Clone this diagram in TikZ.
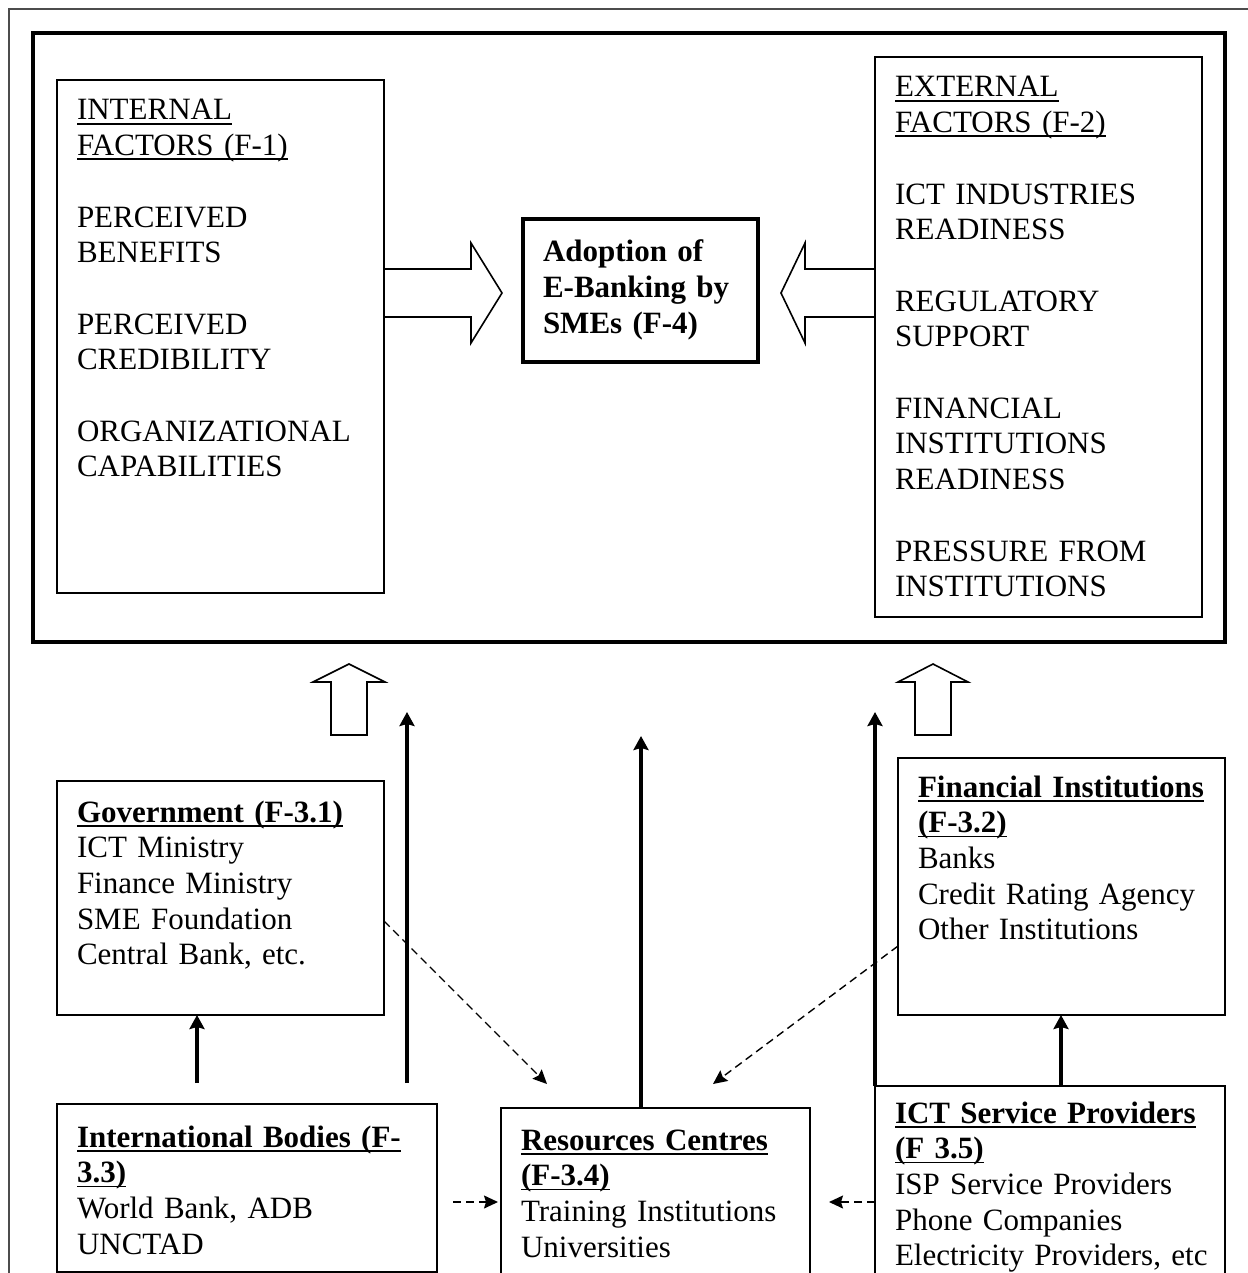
\documentclass[tikz,border=0pt]{standalone}
\usepackage{fontspec}
\setmainfont{Liberation Serif}
\usepackage{tikz}
\usetikzlibrary{arrows.meta}
\newcommand{\ulhead}[1]{\leavevmode\setbox0=\hbox{#1}\rlap{\rule[-2.3pt]{\wd0}{0.9pt}}\box0}
\tikzset{
   factorbox/.style={draw, line width=0.8pt, anchor=north west, inner xsep=10pt, inner ysep=0pt, outer sep=0pt, align=left, font=\fontsize{15.5pt}{17.85pt}\selectfont},
   mainbox/.style={factorbox, line width=1.6pt, font=\fontsize{15.5pt}{17.85pt}\selectfont\bfseries},
   thickarrow/.style={line width=2pt, -{Stealth[length=7pt,width=7.5pt,inset=1pt]}},
   dasharrow/.style={line width=0.7pt, dash pattern=on 4pt off 2.5pt, -{Stealth[length=7pt,width=6.5pt,inset=1pt]}},
   blockarrow/.style={line width=0.8pt, line join=miter}
}
\begin{document}
\begin{tikzpicture}[x=0.5pt,y=-0.5pt]
   \useasboundingbox (0,0) rectangle (1247,1273);
   \draw[line width=0.8pt, black!70] (1260,9) -- (9,9) -- (9,1290);
   \node[draw, line width=1.6pt, outer sep=0pt, inner sep=0pt, anchor=north west, minimum width=596pt, minimum height=304.5pt](frame) at (33,33) {};

   \node[factorbox, text width=143.5pt, text height=20pt, text depth=236.5pt](intf) at (57,80)
      {\ulhead{INTERNAL}\\ \ulhead{FACTORS (F-1)}\\[\baselineskip]
       PERCEIVED\\ BENEFITS\\[\baselineskip]
       PERCEIVED\\ CREDIBILITY\\[\baselineskip]
       ORGANIZATIONAL\\ CAPABILITIES};
   \node[factorbox, text width=143.5pt, text height=20pt, text depth=260pt](extf) at (875,57)
      {\ulhead{EXTERNAL}\\ \ulhead{FACTORS (F-2)}\\[\baselineskip]
       ICT INDUSTRIES\\ READINESS\\[\baselineskip]
       REGULATORY\\ SUPPORT\\[\baselineskip]
       FINANCIAL\\ INSTITUTIONS\\ READINESS\\[\baselineskip]
       PRESSURE FROM\\ INSTITUTIONS};
   \node[mainbox, text width=97.5pt, text height=21.5pt, text depth=50pt](adopt) at (523,219)
      {Adoption of\\ E-Banking by\\ SMEs (F-4)};

   \node[factorbox, text width=143.5pt, text height=20.5pt, text depth=96.5pt](gov) at (57,781)
      {\ulhead{\textbf{Government (F-3.1)}}\\ ICT Ministry\\ Finance Ministry\\ SME Foundation\\ Central Bank, etc.};
   \node[factorbox, text width=143.5pt, text height=19.5pt, text depth=109pt](fin) at (898,758)
      {\ulhead{\textbf{Financial Institutions}}\\ \ulhead{\textbf{(F-3.2)}}\\ Banks\\ Credit Rating Agency\\ Other Institutions};
   \node[factorbox, text width=170pt, text height=21.5pt, text depth=62.5pt](int) at (57,1104)
      {\ulhead{\textbf{International Bodies (F-}}\\ \ulhead{\textbf{3.3)}}\\ World Bank, ADB\\ UNCTAD};
   \node[factorbox, text width=134.5pt, text height=21pt, text depth=73pt](res) at (501,1108)
      {\ulhead{\textbf{Resources Centres}}\\ \ulhead{\textbf{(F-3.4)}}\\ Training Institutions\\ Universities};
   \node[factorbox, text width=155pt, text height=18.5pt, text depth=97.5pt](ict) at (875,1086)
      {\ulhead{\textbf{ICT Service Providers}}\\ \ulhead{\textbf{(F 3.5)}}\\ ISP Service Providers\\ Phone Companies\\ \mbox{Electricity Providers, etc}};

   \draw[blockarrow] (384,269) -- (471,269) -- (471,243) -- (502,293) -- (471,343) -- (471,317) -- (384,317);
   \draw[blockarrow] (875,269) -- (805,269) -- (805,243) -- (781,293) -- (805,343) -- (805,317) -- (875,317);
   \draw[blockarrow] (331,735) -- (331,682) -- (313,682) -- (349,664) -- (385,682) -- (367,682) -- (367,735) -- cycle;
   \draw[blockarrow] (915,735) -- (915,682) -- (898,682) -- (933,664) -- (968,682) -- (951,682) -- (951,735) -- cycle;

   \coordinate (intl) at ([xshift=70pt]int.north west);
   \coordinate (intr) at ([xshift=175pt]int.north west);
   \coordinate (resup) at ([xshift=70pt]res.north west);
   \coordinate (ictup) at ([xshift=93pt]ict.north west);
   \coordinate (govtip) at ([xshift=23pt,yshift=12pt]res.north west);
   \coordinate (fintip) at ([xshift=106pt,yshift=12pt]res.north west);

   \draw[thickarrow, shorten <=10.5pt](intl) to (intl |- gov.south);
   \draw[thickarrow, shorten <=10.5pt, shorten >=35pt](intr) to (intr |- frame.south);
   \draw[thickarrow, shorten >=47pt](resup) to (resup |- frame.south);
   \draw[thickarrow, shorten >=35pt](ict.north west) to (ict.north west |- frame.south);
   \draw[thickarrow](ictup) to (ictup |- fin.south);

   \draw[dasharrow]([yshift=-11.5pt]gov.east) to (govtip);
   \draw[dasharrow]([yshift=-29.75pt]fin.west) to (fintip);
   \draw[dasharrow, shorten <=8pt, shorten >=1.5pt](int.east |- res.west) to (res.west);
   \draw[dasharrow, shorten >=9.5pt](ict.west) to (res.east);
\end{tikzpicture}
\end{document}
